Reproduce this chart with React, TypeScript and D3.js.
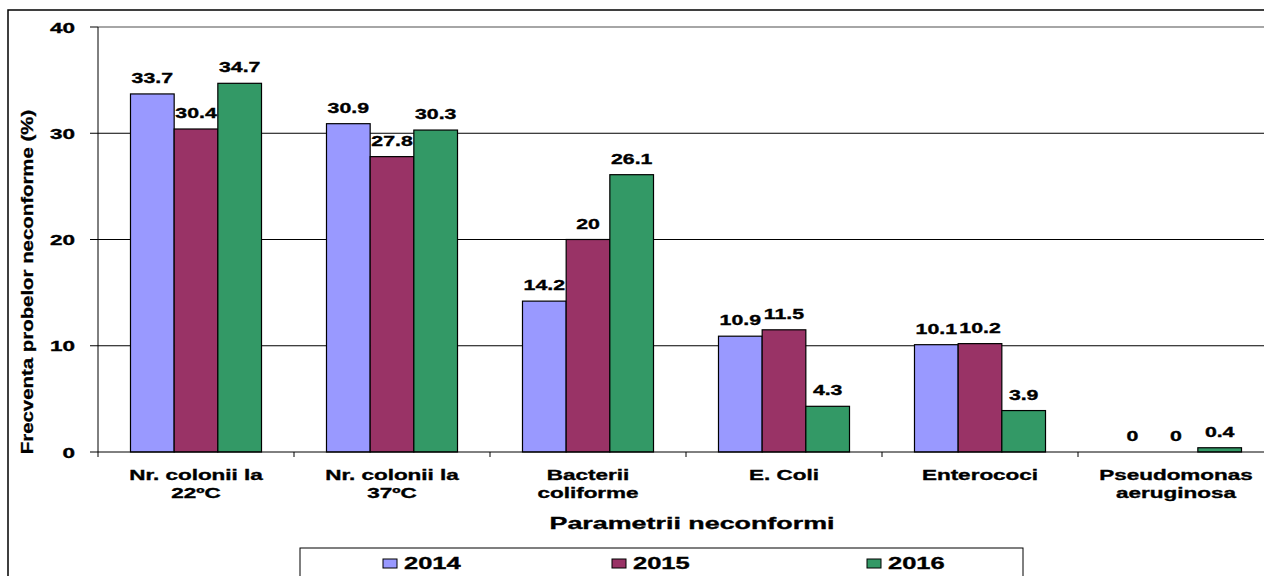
import React from "react";
import * as d3 from "d3";

const categories: string[][] = [
  ["Nr. colonii la", "22ºC"],
  ["Nr. colonii la", "37ºC"],
  ["Bacterii", "coliforme"],
  ["E. Coli"],
  ["Enterococi"],
  ["Pseudomonas", "aeruginosa"],
];
const categoryKeys = categories.map((c) => c.join(" "));
const seriesNames = ["2014", "2015", "2016"];
const values2014 = [33.7, 30.9, 14.2, 10.9, 10.1, 0];
const values2015 = [30.4, 27.8, 20, 11.5, 10.2, 0];
const values2016 = [34.7, 30.3, 26.1, 4.3, 3.9, 0.4];
const seriesValues = [values2014, values2015, values2016];
const seriesColors = ["#9999FF", "#993366", "#339966"];
const yTicks = [0, 10, 20, 30, 40];
const yTitle = "Frecventa probelor neconforme (%)";
const xTitle = "Parametrii neconformi";

const FONT = "'Liberation Sans', Arial, Helvetica, sans-serif";
const SX = 1.5;

function SText(props: {
  x: number;
  y: number;
  size: number;
  anchor?: string;
  sx?: number;
  children: React.ReactNode;
}) {
  const { x, y, size, anchor = "middle", sx = SX, children } = props;
  return (
    <text
      transform={`translate(${x},${y}) scale(${sx},1)`}
      textAnchor={anchor as any}
      fontFamily={FONT}
      fontWeight="bold"
      fontSize={size}
      fill="#000"
      stroke="#000"
      strokeWidth={0.35}
    >
      {children}
    </text>
  );
}

export default function App() {
  const W = 1264;
  const H = 576;
  const left = 98;
  const step = 196;
  const x = d3
    .scaleBand<string>()
    .domain(categoryKeys)
    .range([left, left + step * categoryKeys.length])
    .paddingInner(0)
    .paddingOuter(0);
  const xs = d3
    .scaleBand<string>()
    .domain(seriesNames)
    .range([0, x.bandwidth()])
    .paddingInner(0)
    .paddingOuter(0.744);
  const y = d3.scaleLinear().domain([0, 40]).range([452, 27]);
  const right = W + 20;

  return (
    <svg
      width={W}
      height={H}
      style={{ position: "absolute", left: 0, top: 0, background: "#fff" }}
    >
      <rect x={0} y={0} width={W} height={H} fill="#fff" />
      {/* outer chart border */}
      <rect
        x={8}
        y={10}
        width={W + 50}
        height={H + 50}
        fill="none"
        stroke="#000"
        strokeWidth={1.5}
      />
      {/* gridlines */}
      {yTicks.slice(1).map((t) => (
        <line
          key={t}
          x1={left}
          x2={right}
          y1={y(t)}
          y2={y(t)}
          stroke={t === 40 ? "#888" : "#000"}
          strokeWidth={t === 40 ? 1.5 : 1}
        />
      ))}
      {/* bars */}
      {seriesNames.map((s, si) =>
        categoryKeys.map((c, ci) => {
          const v = seriesValues[si][ci];
          const bx = (x(c) as number) + (xs(s) as number);
          const bw = xs.bandwidth();
          return (
            <g key={s + c}>
              {v > 0 && (
                <rect
                  x={bx}
                  y={y(v)}
                  width={bw}
                  height={y(0) - y(v)}
                  fill={seriesColors[si]}
                  stroke="#000"
                  strokeWidth={1.2}
                />
              )}
              <SText x={bx + bw / 2} y={y(v) - 11} size={15} sx={1.42}>
                {String(v)}
              </SText>
            </g>
          );
        })
      )}
      {/* y axis */}
      <line x1={left} x2={left} y1={y(40)} y2={y(0)} stroke="#000" strokeWidth={1} />
      {yTicks.map((t) => (
        <g key={"yt" + t}>
          <line x1={90} x2={left} y1={y(t)} y2={y(t)} stroke="#000" strokeWidth={1} />
          <SText x={75} y={y(t) + 5.5} size={15} anchor="end">
            {String(t)}
          </SText>
        </g>
      ))}
      {/* x axis */}
      <line x1={left} x2={right} y1={y(0)} y2={y(0)} stroke="#000" strokeWidth={1} />
      {categoryKeys.map((c) => (
        <line
          key={"xt" + c}
          x1={x(c) as number}
          x2={x(c) as number}
          y1={y(0)}
          y2={y(0) + 5}
          stroke="#000"
          strokeWidth={1}
        />
      ))}
      {categories.map((lines, i) => (
        <g key={"cl" + i}>
          {lines.map((ln, li) => (
            <SText
              key={li}
              x={(x(categoryKeys[i]) as number) + x.bandwidth() / 2}
              y={480 + li * 18}
              size={15}
            >
              {ln}
            </SText>
          ))}
        </g>
      ))}
      {/* axis titles */}
      <text
        transform={`translate(33,282) rotate(-90) scale(1.2,1)`}
        textAnchor="middle"
        fontFamily={FONT}
        fontWeight="bold"
        fontSize={17}
        stroke="#000"
        strokeWidth={0.3}
      >
        {yTitle}
      </text>
      <SText x={692} y={529} size={17} sx={1.58}>
        {xTitle}
      </SText>
      {/* legend */}
      <rect x={300} y={548} width={723} height={60} fill="#fff" stroke="#000" strokeWidth={1} />
      {seriesNames.map((s, i) => {
        const lx = [383, 612, 867][i];
        return (
          <g key={"lg" + s}>
            <rect
              x={lx}
              y={559}
              width={14}
              height={9}
              fill={seriesColors[i]}
              stroke="#000"
              strokeWidth={1}
            />
            <SText x={lx + 21} y={569} size={17} anchor="start">
              {s}
            </SText>
          </g>
        );
      })}
    </svg>
  );
}
